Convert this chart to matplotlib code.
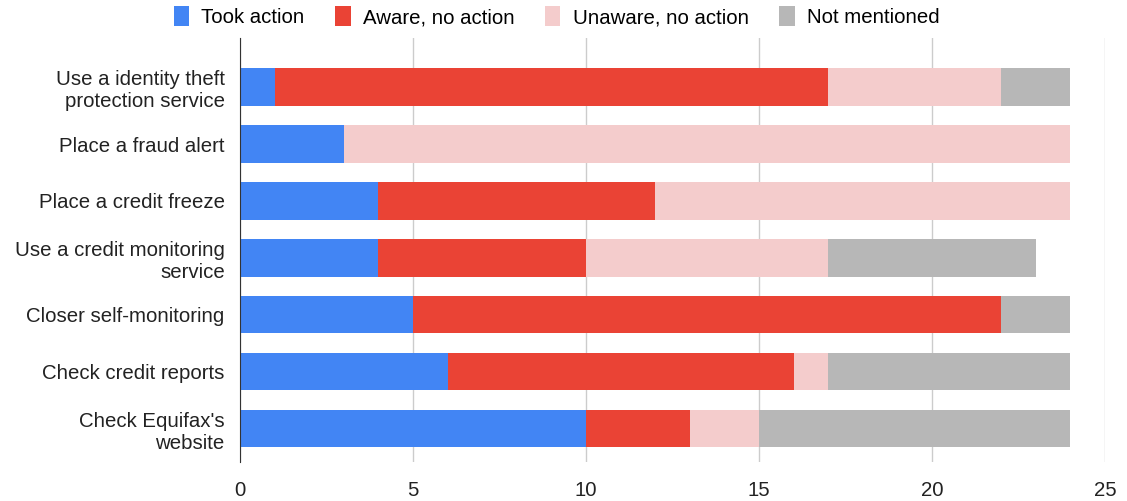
import numpy as np
import matplotlib.pyplot as plt

plt.rcParams['font.family'] = ['Liberation Sans', 'DejaVu Sans']

categories = [
    "Use a identity theft\nprotection service",
    "Place a fraud alert",
    "Place a credit freeze",
    "Use a credit monitoring\nservice",
    "Closer self-monitoring",
    "Check credit reports",
    "Check Equifax's\nwebsite",
]
series = ["Took action", "Aware, no action", "Unaware, no action", "Not mentioned"]
took_action = [1, 3, 4, 4, 5, 6, 10]
aware_no_action = [16, 0, 8, 6, 17, 10, 3]
unaware_no_action = [5, 21, 12, 7, 0, 1, 2]
not_mentioned = [2, 0, 0, 6, 2, 7, 9]
colors = ["#4285F4", "#EA4335", "#F4CCCC", "#B7B7B7"]

fig = plt.figure(figsize=(11.27, 5.01), dpi=100)
ax = fig.add_axes([240 / 1127, 39 / 501, 865 / 1127, 424 / 501])

y = np.arange(len(categories))
left = np.zeros(len(categories))
for name, vals, c in zip(series, [took_action, aware_no_action, unaware_no_action, not_mentioned], colors):
    vals = np.array(vals, dtype=float)
    ax.barh(y, vals, left=left, height=0.65, color=c, label=name, zorder=3)
    left += vals

ax.set_xlim(0, 25)
ax.set_ylim(len(categories) - 1 + 0.58, -0.86)
ax.set_xticks([0, 5, 10, 15, 20, 25])
ax.set_yticks(y)
ax.set_yticklabels(categories)
ax.tick_params(axis='both', length=0, labelsize=14.7, colors='#222222')
ax.tick_params(axis='x', pad=14)
ax.tick_params(axis='y', pad=11)
ax.grid(axis='x', color='#cccccc', linewidth=1, zorder=0)
for s in ['top', 'right', 'bottom']:
    ax.spines[s].set_visible(False)
ax.spines['left'].set_color('#333333')
ax.spines['left'].set_zorder(4)

fig.legend(loc='upper center', bbox_to_anchor=(0.494, 1.024), ncol=4, frameon=False,
           fontsize=14.7, handlelength=0.75, handleheight=1.1, columnspacing=1.5,
           handletextpad=0.6)

fig.savefig("out.png", dpi=100)
